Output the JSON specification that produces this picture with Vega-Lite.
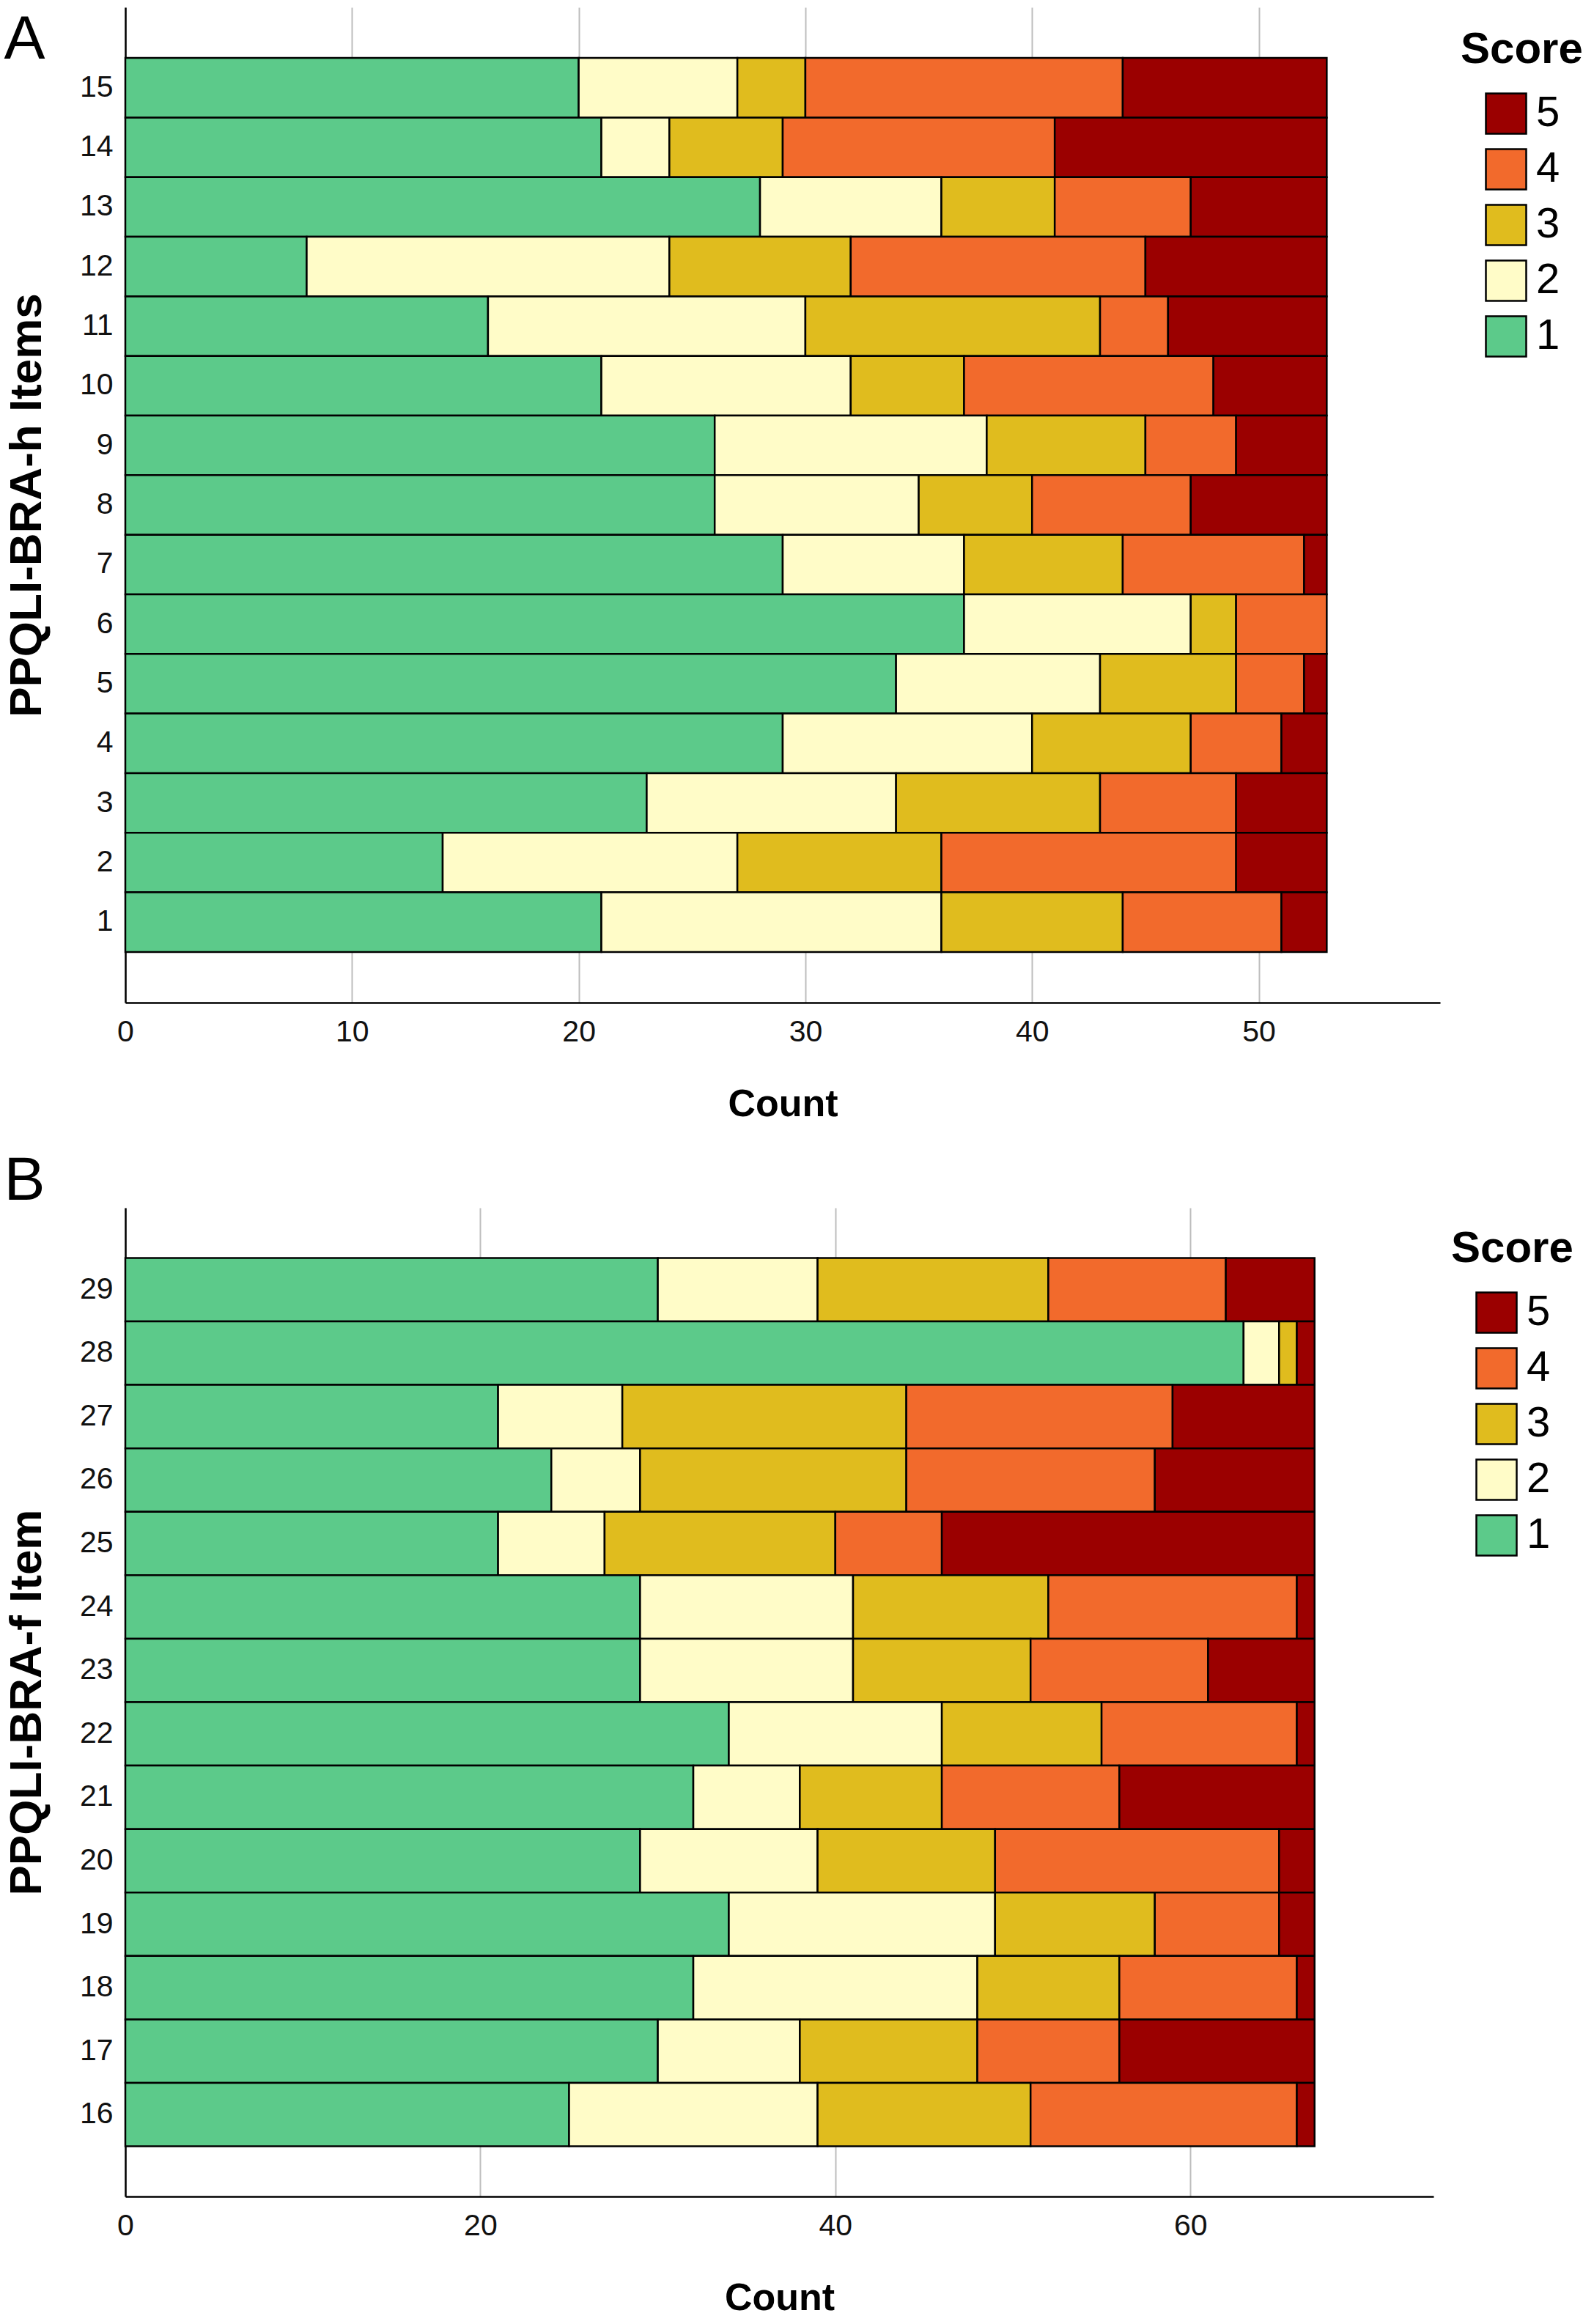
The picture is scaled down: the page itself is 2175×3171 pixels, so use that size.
{
  "$schema": "https://vega.github.io/schema/vega-lite/v6.json",
  "background": "white",
  "padding": {"left": 5, "top": 10, "right": 5, "bottom": 0},
  "spacing": 38,
  "resolve": {"scale": {"color": "independent"}, "legend": {"color": "independent"}},
  "datasets": {
    "itemsH": [
      {"item": 15, "score": 1, "count": 20}, {"item": 15, "score": 2, "count": 7}, {"item": 15, "score": 3, "count": 3}, {"item": 15, "score": 4, "count": 14}, {"item": 15, "score": 5, "count": 9},
      {"item": 14, "score": 1, "count": 21}, {"item": 14, "score": 2, "count": 3}, {"item": 14, "score": 3, "count": 5}, {"item": 14, "score": 4, "count": 12}, {"item": 14, "score": 5, "count": 12},
      {"item": 13, "score": 1, "count": 28}, {"item": 13, "score": 2, "count": 8}, {"item": 13, "score": 3, "count": 5}, {"item": 13, "score": 4, "count": 6}, {"item": 13, "score": 5, "count": 6},
      {"item": 12, "score": 1, "count": 8}, {"item": 12, "score": 2, "count": 16}, {"item": 12, "score": 3, "count": 8}, {"item": 12, "score": 4, "count": 13}, {"item": 12, "score": 5, "count": 8},
      {"item": 11, "score": 1, "count": 16}, {"item": 11, "score": 2, "count": 14}, {"item": 11, "score": 3, "count": 13}, {"item": 11, "score": 4, "count": 3}, {"item": 11, "score": 5, "count": 7},
      {"item": 10, "score": 1, "count": 21}, {"item": 10, "score": 2, "count": 11}, {"item": 10, "score": 3, "count": 5}, {"item": 10, "score": 4, "count": 11}, {"item": 10, "score": 5, "count": 5},
      {"item": 9, "score": 1, "count": 26}, {"item": 9, "score": 2, "count": 12}, {"item": 9, "score": 3, "count": 7}, {"item": 9, "score": 4, "count": 4}, {"item": 9, "score": 5, "count": 4},
      {"item": 8, "score": 1, "count": 26}, {"item": 8, "score": 2, "count": 9}, {"item": 8, "score": 3, "count": 5}, {"item": 8, "score": 4, "count": 7}, {"item": 8, "score": 5, "count": 6},
      {"item": 7, "score": 1, "count": 29}, {"item": 7, "score": 2, "count": 8}, {"item": 7, "score": 3, "count": 7}, {"item": 7, "score": 4, "count": 8}, {"item": 7, "score": 5, "count": 1},
      {"item": 6, "score": 1, "count": 37}, {"item": 6, "score": 2, "count": 10}, {"item": 6, "score": 3, "count": 2}, {"item": 6, "score": 4, "count": 4},
      {"item": 5, "score": 1, "count": 34}, {"item": 5, "score": 2, "count": 9}, {"item": 5, "score": 3, "count": 6}, {"item": 5, "score": 4, "count": 3}, {"item": 5, "score": 5, "count": 1},
      {"item": 4, "score": 1, "count": 29}, {"item": 4, "score": 2, "count": 11}, {"item": 4, "score": 3, "count": 7}, {"item": 4, "score": 4, "count": 4}, {"item": 4, "score": 5, "count": 2},
      {"item": 3, "score": 1, "count": 23}, {"item": 3, "score": 2, "count": 11}, {"item": 3, "score": 3, "count": 9}, {"item": 3, "score": 4, "count": 6}, {"item": 3, "score": 5, "count": 4},
      {"item": 2, "score": 1, "count": 14}, {"item": 2, "score": 2, "count": 13}, {"item": 2, "score": 3, "count": 9}, {"item": 2, "score": 4, "count": 13}, {"item": 2, "score": 5, "count": 4},
      {"item": 1, "score": 1, "count": 21}, {"item": 1, "score": 2, "count": 15}, {"item": 1, "score": 3, "count": 8}, {"item": 1, "score": 4, "count": 7}, {"item": 1, "score": 5, "count": 2}
    ],
    "itemsF": [
      {"item": 29, "score": 1, "count": 30}, {"item": 29, "score": 2, "count": 9}, {"item": 29, "score": 3, "count": 13}, {"item": 29, "score": 4, "count": 10}, {"item": 29, "score": 5, "count": 5},
      {"item": 28, "score": 1, "count": 63}, {"item": 28, "score": 2, "count": 2}, {"item": 28, "score": 3, "count": 1}, {"item": 28, "score": 5, "count": 1},
      {"item": 27, "score": 1, "count": 21}, {"item": 27, "score": 2, "count": 7}, {"item": 27, "score": 3, "count": 16}, {"item": 27, "score": 4, "count": 15}, {"item": 27, "score": 5, "count": 8},
      {"item": 26, "score": 1, "count": 24}, {"item": 26, "score": 2, "count": 5}, {"item": 26, "score": 3, "count": 15}, {"item": 26, "score": 4, "count": 14}, {"item": 26, "score": 5, "count": 9},
      {"item": 25, "score": 1, "count": 21}, {"item": 25, "score": 2, "count": 6}, {"item": 25, "score": 3, "count": 13}, {"item": 25, "score": 4, "count": 6}, {"item": 25, "score": 5, "count": 21},
      {"item": 24, "score": 1, "count": 29}, {"item": 24, "score": 2, "count": 12}, {"item": 24, "score": 3, "count": 11}, {"item": 24, "score": 4, "count": 14}, {"item": 24, "score": 5, "count": 1},
      {"item": 23, "score": 1, "count": 29}, {"item": 23, "score": 2, "count": 12}, {"item": 23, "score": 3, "count": 10}, {"item": 23, "score": 4, "count": 10}, {"item": 23, "score": 5, "count": 6},
      {"item": 22, "score": 1, "count": 34}, {"item": 22, "score": 2, "count": 12}, {"item": 22, "score": 3, "count": 9}, {"item": 22, "score": 4, "count": 11}, {"item": 22, "score": 5, "count": 1},
      {"item": 21, "score": 1, "count": 32}, {"item": 21, "score": 2, "count": 6}, {"item": 21, "score": 3, "count": 8}, {"item": 21, "score": 4, "count": 10}, {"item": 21, "score": 5, "count": 11},
      {"item": 20, "score": 1, "count": 29}, {"item": 20, "score": 2, "count": 10}, {"item": 20, "score": 3, "count": 10}, {"item": 20, "score": 4, "count": 16}, {"item": 20, "score": 5, "count": 2},
      {"item": 19, "score": 1, "count": 34}, {"item": 19, "score": 2, "count": 15}, {"item": 19, "score": 3, "count": 9}, {"item": 19, "score": 4, "count": 7}, {"item": 19, "score": 5, "count": 2},
      {"item": 18, "score": 1, "count": 32}, {"item": 18, "score": 2, "count": 16}, {"item": 18, "score": 3, "count": 8}, {"item": 18, "score": 4, "count": 10}, {"item": 18, "score": 5, "count": 1},
      {"item": 17, "score": 1, "count": 30}, {"item": 17, "score": 2, "count": 8}, {"item": 17, "score": 3, "count": 10}, {"item": 17, "score": 4, "count": 8}, {"item": 17, "score": 5, "count": 11},
      {"item": 16, "score": 1, "count": 25}, {"item": 16, "score": 2, "count": 14}, {"item": 16, "score": 3, "count": 12}, {"item": 16, "score": 4, "count": 15}, {"item": 16, "score": 5, "count": 1}
    ]
  },
  "config": {
    "view": {"stroke": null},
    "axis": {
      "domainColor": "black",
      "domainWidth": 2.5,
      "ticks": false,
      "tickSize": 0,
      "labelFont": "Liberation Sans",
      "labelFontSize": 41,
      "labelColor": "#111111",
      "titleFont": "Liberation Sans",
      "titleFontWeight": "bold",
      "titleColor": "black"
    },
    "axisX": {
      "grid": true,
      "gridColor": "#bdbdbd",
      "gridWidth": 2,
      "labelFlush": false,
      "labelPadding": 20,
      "titleFontSize": 52,
      "titlePadding": 53
    },
    "axisY": {
      "grid": false,
      "labelPadding": 17,
      "titleFontSize": 62,
      "titlePadding": 40
    },
    "title": {
      "font": "Liberation Sans",
      "fontSize": 84,
      "fontWeight": "normal",
      "anchor": "start",
      "baseline": "alphabetic",
      "color": "black"
    },
    "legend": {
      "titleFont": "Liberation Sans",
      "titleFontSize": 60,
      "titleFontWeight": "bold",
      "titleColor": "black",
      "titlePadding": 27,
      "labelFont": "Liberation Sans",
      "labelFontSize": 58,
      "labelColor": "black",
      "labelOffset": 12,
      "symbolType": "square",
      "symbolSize": 3025,
      "symbolStrokeColor": "black",
      "symbolStrokeWidth": 2.5,
      "symbolOpacity": 1,
      "symbolOffset": 33,
      "rowPadding": 10
    },
    "bar": {"stroke": "black", "strokeWidth": 2.5, "opacity": 1}
  },
  "vconcat": [
    {
      "title": {"text": "A", "offset": -88},
      "width": 1794,
      "height": 1358,
      "data": {"name": "itemsH"},
      "mark": "bar",
      "encoding": {
        "y": {
          "field": "item",
          "type": "ordinal",
          "sort": "descending",
          "scale": {"paddingInner": 0, "paddingOuter": 0.85},
          "axis": {"title": "PPQLI-BRA-h Items"}
        },
        "x": {
          "field": "count",
          "type": "quantitative",
          "stack": "zero",
          "scale": {"domain": [0, 58], "nice": false},
          "axis": {"values": [0, 10, 20, 30, 40, 50], "title": "Count"}
        },
        "order": {"field": "score", "type": "quantitative", "sort": "ascending"},
        "color": {
          "field": "score",
          "type": "ordinal",
          "scale": {
            "domain": [5, 4, 3, 2, 1],
            "range": ["#9b0000", "#f26a2c", "#e0bc1e", "#fffcc8", "#5cca8a"]
          },
          "legend": {"title": "Score", "orient": "none", "legendX": 1822, "legendY": 29}
        }
      }
    },
    {
      "title": {"text": "B", "offset": -7},
      "width": 1785,
      "height": 1349,
      "data": {"name": "itemsF"},
      "mark": "bar",
      "encoding": {
        "y": {
          "field": "item",
          "type": "ordinal",
          "sort": "descending",
          "scale": {"paddingInner": 0, "paddingOuter": 0.79},
          "axis": {"title": "PPQLI-BRA-f Item"}
        },
        "x": {
          "field": "count",
          "type": "quantitative",
          "stack": "zero",
          "scale": {"domain": [0, 73.7], "nice": false},
          "axis": {"values": [0, 20, 40, 60], "title": "Count"}
        },
        "order": {"field": "score", "type": "quantitative", "sort": "ascending"},
        "color": {
          "field": "score",
          "type": "ordinal",
          "scale": {
            "domain": [5, 4, 3, 2, 1],
            "range": ["#9b0000", "#f26a2c", "#e0bc1e", "#fffcc8", "#5cca8a"]
          },
          "legend": {"title": "Score", "orient": "none", "legendX": 1809, "legendY": 27}
        }
      }
    }
  ]
}
